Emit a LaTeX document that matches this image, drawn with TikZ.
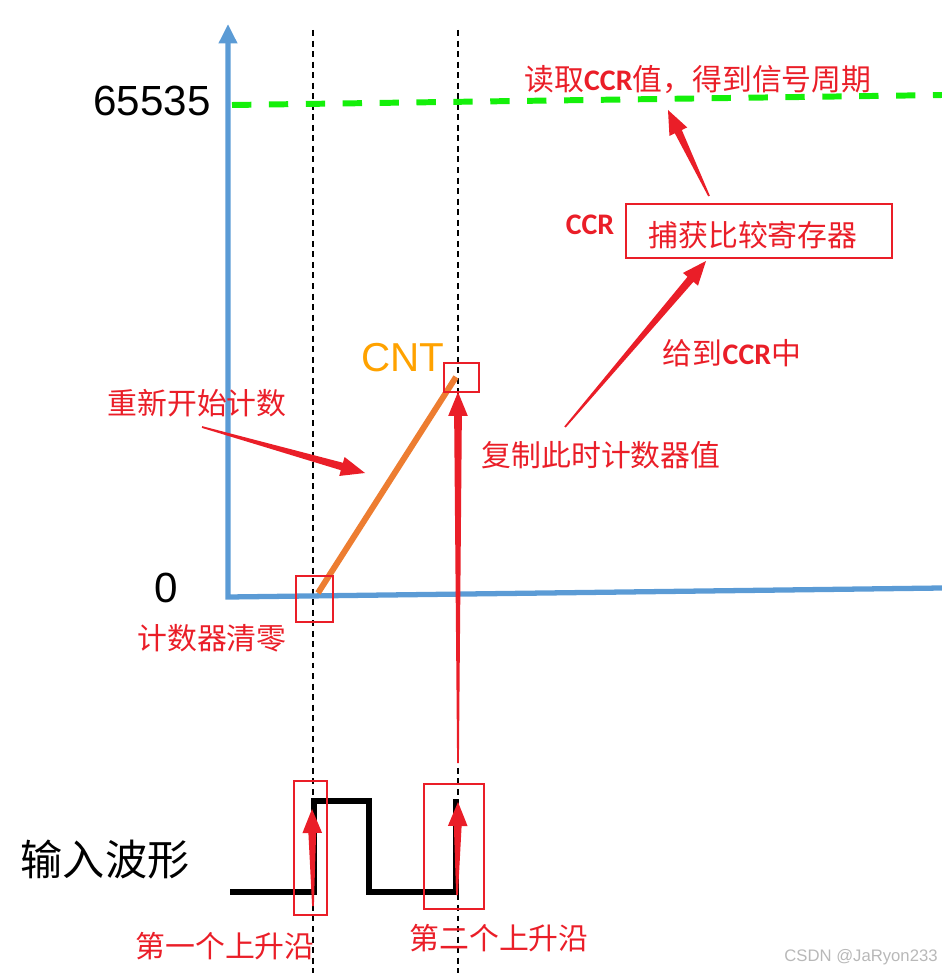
\documentclass[tikz,border=0pt]{standalone}
\usepackage{fontspec}
\setmainfont{Noto Sans CJK SC}
\newfontfamily\arialfont{Liberation Sans}
\newfontfamily\calfont{Carlito}
\usetikzlibrary{calc,arrows.meta}
\definecolor{axisblue}{RGB}{91,155,213}
\definecolor{cntorange}{RGB}{237,125,49}
\definecolor{cnttext}{RGB}{255,162,0}
\definecolor{markred}{RGB}{234,30,40}
\definecolor{limgreen}{RGB}{20,240,10}
\newcommand\ccr{{\calfont\bfseries CCR}}
\newcommand\wedgearrow[2]{%
  \coordinate (wedgebase) at ($(#2)!0.48cm!(#1)$);
  \fill[markred] ($(#1)!0.5pt!90:(#2)$) -- ($(wedgebase)!2.2pt!90:(#2)$) -- ($(wedgebase)!5.6pt!90:(#2)$) -- (#2)
    -- ($(wedgebase)!5.6pt!-90:(#2)$) -- ($(wedgebase)!2.2pt!-90:(#2)$) -- ($(#1)!0.5pt!-90:(#2)$) -- cycle;}
\begin{document}
\begin{tikzpicture}[x=0.02cm,y=-0.02cm,
    redtext/.style={text=markred,font=\fontsize{17}{20}\selectfont,inner sep=0pt},
    bigtext/.style={font=\arialfont\fontsize{24}{28}\selectfont,inner sep=0pt},
    markbox/.style={draw=markred,line width=1.1pt,inner sep=0pt,outer sep=0pt},
    guide/.style={line width=1.1pt,dash pattern=on 3.4pt off 2.6pt}]
    \useasboundingbox (0,0) rectangle (942,973);

    \draw[guide] (313,30) -- (313,973);
    \draw[guide] (458,30) -- (458,973);
    \draw[axisblue,line width=3pt,{Triangle[length=11pt,width=10pt]}-] (228,24) -- (228,597) -- (942,588);
    \draw[limgreen,line width=3.4pt,dash pattern=on 11pt off 10pt] (232,105) -- (942,95);
    \draw[cntorange,line width=3.4pt] (318,593) -- (456,377);
    \draw[line width=3.6pt,miter limit=10] (230,892) -- (314,892) -- (314,801) -- (369,801) -- (369,892) -- (456,892) -- (456,799);

    \node (top) [bigtext] at (152,101) {65535};
    \node (zero) [bigtext] at (166,588) {0};
    \node (cnt) [bigtext,text=cnttext,font=\arialfont\fontsize{23}{27}\selectfont] at (403,358) {CNT};
    \node (input) [font=\fontsize{24}{28}\selectfont,inner sep=0pt] at (105,860) {输入波形};

    \node (cntbox) [markbox,minimum width=0.7cm,minimum height=0.58cm] at (461.5,377.5) {};
    \node (zerobox) [markbox,minimum width=0.74cm,minimum height=0.92cm] at (314.5,599) {};
    \node (edgeboxa) [markbox,minimum width=0.66cm,minimum height=2.68cm] at (310.5,848) {};
    \node (edgeboxb) [markbox,minimum width=1.2cm,minimum height=2.5cm] at (454,846.5) {};
    \node (ccrbox) [markbox,minimum width=5.32cm,minimum height=1.08cm] at (759,231) {};
    \node (ccrtext) [redtext] at (753,235) {捕获比较寄存器};
    \node (ccrlab) [text=markred,font=\calfont\bfseries\fontsize{17}{20}\selectfont,inner sep=0pt] at (590,225) {CCR};

    \node (read) [redtext] at (698,80) {读取\ccr 值，得到信号周期};
    \node (give) [redtext] at (732,353) {给到\ccr 中};
    \node (copy) [redtext] at (601,455) {复制此时计数器值};
    \node (restart) [redtext] at (197,403) {重新开始计数};
    \node (clear) [redtext] at (212,638) {计数器清零};
    \node (edgea) [redtext] at (225,946) {第一个上升沿};
    \node (edgeb) [redtext] at (499,938) {第二个上升沿};
    \node (mark) [text=black!28,font=\arialfont\fontsize{9.5}{11}\selectfont,inner sep=0pt,anchor=east] at (938,957) {CSDN @JaRyon233};

    \coordinate (restarttail) at (202,427);
    \coordinate (restarttip) at (365,473);
    \coordinate (copytail) at (458,763);
    \coordinate (copytip) at (458,392);
    \coordinate (givetail) at (565,427);
    \coordinate (givetip) at (706,261);
    \coordinate (readtail) at (709,196);
    \coordinate (readtip) at (668,110);
    \coordinate (edgeatail) at (313,906);
    \coordinate (edgeatip) at (312,809);
    \coordinate (edgebtail) at (457,895);
    \coordinate (edgebtip) at (458,802);

    \wedgearrow{restarttail}{restarttip}
    \wedgearrow{copytail}{copytip}
    \wedgearrow{givetail}{givetip}
    \wedgearrow{readtail}{readtip}
    \wedgearrow{edgeatail}{edgeatip}
    \wedgearrow{edgebtail}{edgebtip}
\end{tikzpicture}
\end{document}
